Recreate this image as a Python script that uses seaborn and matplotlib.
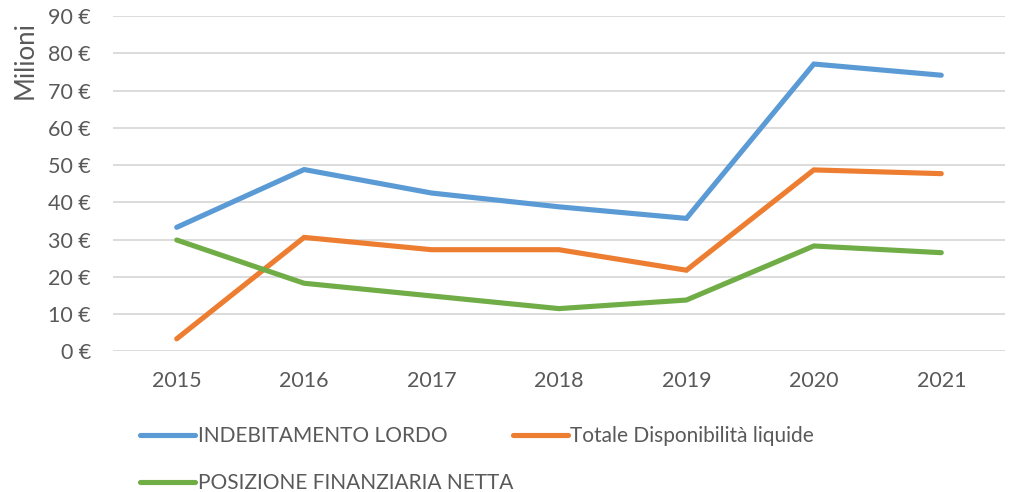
import pandas as pd
import matplotlib
matplotlib.use("Agg")
import matplotlib.pyplot as plt
from matplotlib.ticker import FuncFormatter, MultipleLocator
import seaborn as sns

years = ["2015", "2016", "2017", "2018", "2019", "2020", "2021"]
indebitamento = [33.3, 48.8, 42.5, 38.8, 35.7, 77.1, 74.1]
disponibilita = [3.4, 30.6, 27.3, 27.3, 21.8, 48.7, 47.7]
posizione = [29.9, 18.3, 14.9, 11.5, 13.8, 28.3, 26.5]

series_names = ["INDEBITAMENTO LORDO", "Totale Disponibilità liquide",
                "POSIZIONE FINANZIARIA NETTA"]
colors = ["#5B9BD5", "#ED7D31", "#70AD47"]

df = pd.DataFrame({
    "Anno": years * 3,
    "Valore": indebitamento + disponibilita + posizione,
    "Serie": [series_names[0]] * 7 + [series_names[1]] * 7 + [series_names[2]] * 7,
})

sns.set_style("white")
plt.rcParams["font.family"] = ["Lato", "DejaVu Sans"]
text_color = "#595959"

fig = plt.figure(figsize=(10.09, 4.92), dpi=100)
ax = fig.add_axes([0.112, 0.2856, 0.884, 0.682])

sns.lineplot(data=df, x="Anno", y="Valore", hue="Serie", palette=colors,
             linewidth=3.7, ax=ax, legend=False, sort=False)
for line in ax.lines:
    line.set_solid_capstyle("round")
    line.set_solid_joinstyle("miter")

ax.set_xlim(-0.5, 6.5)
ax.set_ylim(0, 90)
ax.yaxis.set_major_locator(MultipleLocator(10))
ax.yaxis.set_major_formatter(FuncFormatter(lambda v, p: f"{v:.0f} €"))
ax.grid(axis="y", color="#D9D9D9", linewidth=1.3)
ax.set_axisbelow(True)
for s in ax.spines.values():
    s.set_visible(False)
ax.tick_params(axis="both", length=0, labelsize=15.5, labelcolor=text_color)
ax.tick_params(axis="y", pad=16)
ax.tick_params(axis="x", pad=14)
ax.set_xlabel("")
ax.set_ylabel("")

fig.text(0.025, 0.878, "Milioni", rotation=90, ha="center", va="center",
         fontsize=18.5, color=text_color)

# legend is filled column by column, so order entries to read row by row
order = [0, 2, 1]
handles = [plt.Line2D([], [], color=colors[i], linewidth=3.7, solid_capstyle="round")
           for i in order]
labels = [series_names[i] for i in order]
leg = fig.legend(handles, labels, loc="upper left",
                 bbox_to_anchor=(0.139, 0.134), ncol=2, frameon=False,
                 fontsize=15, handlelength=2.65, handletextpad=0.1,
                 columnspacing=0.0, labelspacing=1.3, borderaxespad=0,
                 borderpad=0)
for t in leg.get_texts():
    t.set_color(text_color)

fig.savefig("out.png", dpi=100)
